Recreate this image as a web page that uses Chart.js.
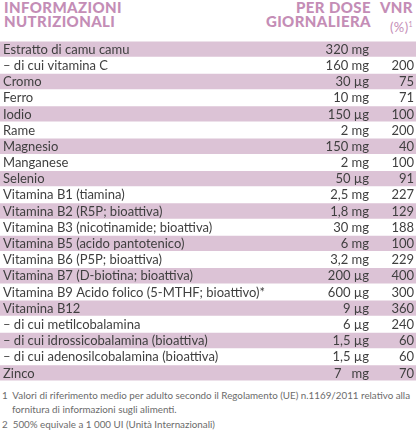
<!DOCTYPE html>
<html><head><meta charset="utf-8">
<script src="https://cdn.jsdelivr.net/npm/chart.js@4"></script>
<style>
body{margin:0;background:#fff;font-family:Lato,"Open Sans",sans-serif;width:416px;height:435px;position:relative;overflow:hidden}
.h{position:absolute;color:#c48db6;font-weight:900;font-size:15px;line-height:13.5px;letter-spacing:0.4px}
#wrap{position:absolute;left:0;top:41px;width:416px;height:340px}
.fn{position:absolute;left:2px;color:#6b6b6b;font-size:9.8px;line-height:14px}
</style></head><body>
<div class="h" style="left:4px;top:1px">INFORMAZIONI<br>NUTRIZIONALI</div>
<div class="h" style="right:45px;top:1px;text-align:right">PER DOSE<br>GIORNALIERA</div>
<div class="h" style="right:3px;top:1px;text-align:right">VNR</div>
<div class="h" style="right:3px;top:18px;text-align:right;font-weight:400;font-size:13px">(%)<sup style="font-size:7px">1</sup></div>
<div id="wrap"><canvas id="c"></canvas></div>
<div class="fn" style="top:388px">1&nbsp;&nbsp;Valori di riferimento medio per adulto secondo il Regolamento (UE) n.1169/2011 relativo alla<br>&nbsp;&nbsp;&nbsp;&nbsp;fornitura di informazioni sugli alimenti.</div>
<div class="fn" style="top:417px">2&nbsp;&nbsp;500% equivale a 1 000 UI (Unità Internazionali)</div>
<script>
const categories=["Estratto di camu camu","– di cui vitamina C","Cromo","Ferro","Iodio","Rame","Magnesio","Manganese","Selenio","Vitamina B1 (tiamina)","Vitamina B2 (R5P; bioattiva)","Vitamina B3 (nicotinamide; bioattiva)","Vitamina B5 (acido pantotenico)","Vitamina B6 (P5P; bioattiva)","Vitamina B7 (D-biotina; bioattiva)","Vitamina B9 Acido folico (5-MTHF; bioattivo)*","Vitamina B12","– di cui metilcobalamina","– di cui idrossicobalamina (bioattiva)","– di cui adenosilcobalamina (bioattiva)","Zinco"];
const doses=["320 mg","160 mg","30 µg","10 mg","150 µg","2 mg","150 mg","2 mg","50 µg","2,5 mg","1,8 mg","30 mg","6 mg","3,2 mg","200 µg","600 µg","9 µg","6 µg","1,5 µg","1,5 µg","7   mg"];
const vnr=[null,200,75,71,100,200,40,100,91,227,129,188,100,229,400,300,360,240,60,60,70];
const rowFill=categories.map((c,i)=>i%2===0?"#dcc3d6":"#ffffff");
const textPlugin={id:"txt",afterDatasetsDraw(ch){
 const ctx=ch.ctx,y=ch.scales.y;ctx.save();ctx.fillStyle="#3f3f3f";ctx.font="13px Lato, 'Open Sans', sans-serif";ctx.textBaseline="middle";
 categories.forEach((c,i)=>{const py=y.getPixelForValue(i)+0.5;
  ctx.textAlign="left";ctx.fillText(c,3,py);
  ctx.textAlign="right";ctx.fillText(doses[i],369,py);
  if(vnr[i]!==null)ctx.fillText(String(vnr[i]),414,py);});
 ctx.restore();}};
new Chart(document.getElementById("c"),{type:"bar",
 data:{labels:categories,datasets:[{data:categories.map(()=>1),backgroundColor:rowFill,barPercentage:1,categoryPercentage:0.95}]},
 options:{indexAxis:"y",responsive:true,maintainAspectRatio:false,animation:false,
  layout:{padding:0},
  plugins:{legend:{display:false},tooltip:{enabled:false}},
  scales:{x:{display:false,min:0,max:1},y:{display:false,offset:true}}},
 plugins:[textPlugin]});
</script></body></html>
